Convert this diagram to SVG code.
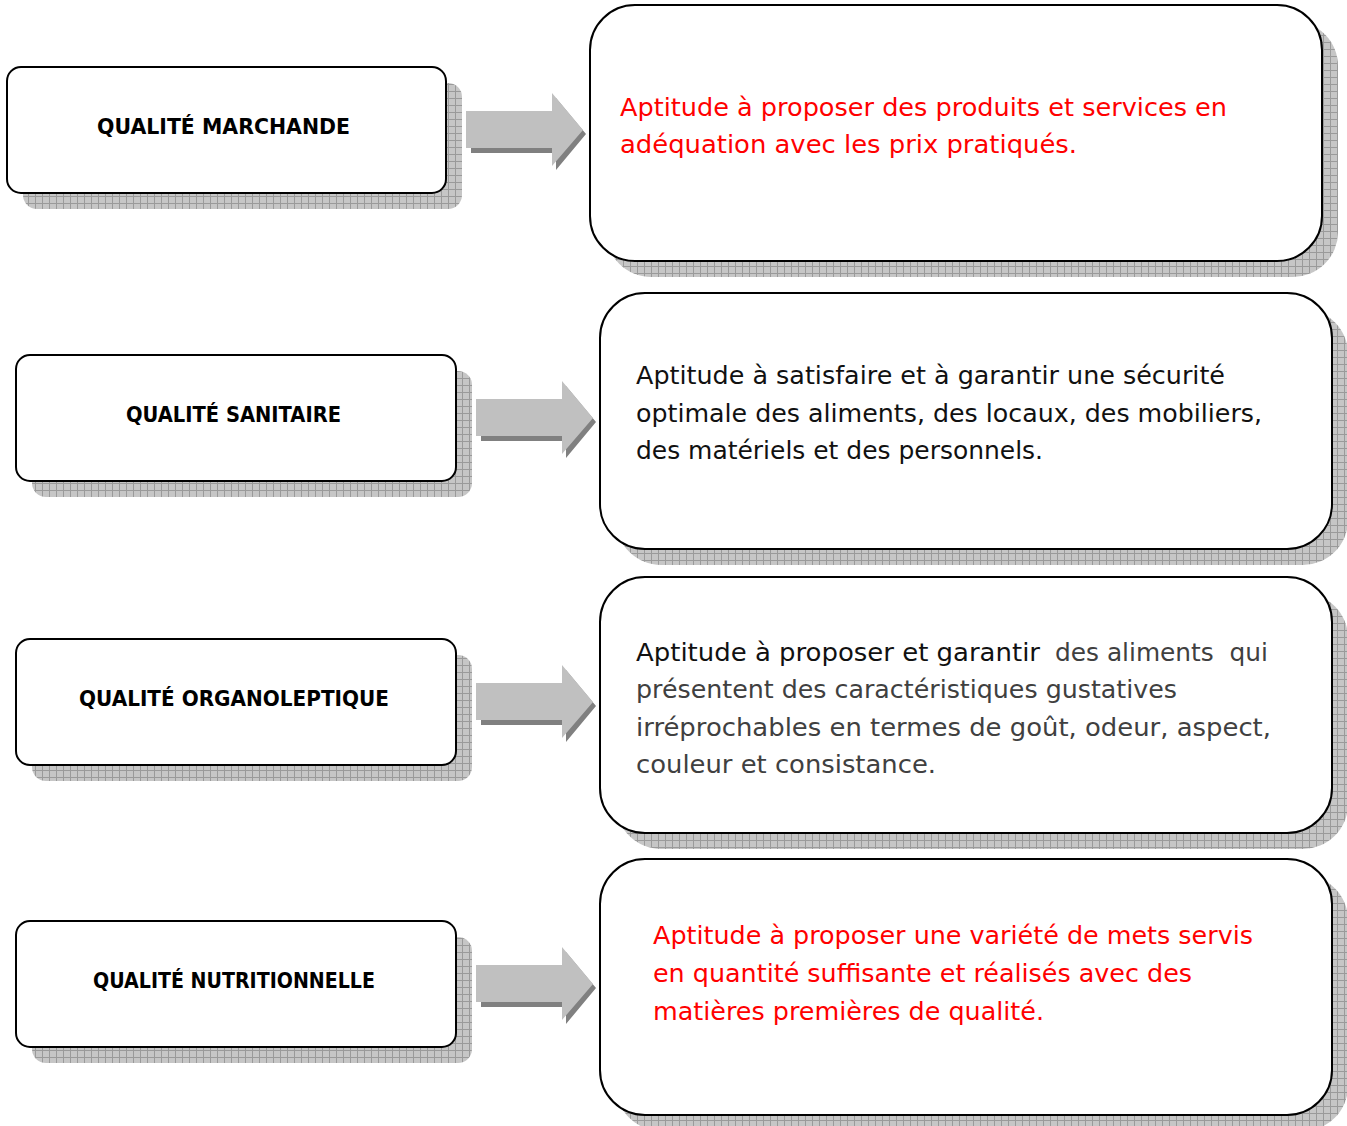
<svg xmlns="http://www.w3.org/2000/svg" width="1347" height="1126" viewBox="0 0 1347 1126">
<defs>
<pattern id="grid" width="7" height="7" patternUnits="userSpaceOnUse">
<rect width="7" height="7" fill="#c6c6c6"/>
<path d="M0 0.5H7M0.5 0V7" stroke="#9a9a9a" stroke-width="1"/>
</pattern>
<g id="arrow">
<path d="M5 5H90V-13L120 23L90 59V42H5Z" fill="#808080"/>
<path d="M0 0H86V-18L117 19L86 55V37H0Z" fill="#c0c0c0"/>
</g>
</defs>
<style>
.shadow{fill:url(#grid)}
.box{fill:#fff;stroke:#000;stroke-width:2}
.lbl{font-family:"DejaVu Sans","Liberation Sans",sans-serif;font-weight:bold;font-size:21px;fill:#000}
.txt{font-family:"DejaVu Sans","Liberation Sans",sans-serif;font-size:24px;white-space:pre}
.red{fill:#ff0000}
.blk{fill:#111}
.gry{fill:#404040}
</style>
<rect width="1347" height="1126" fill="#fff"/>

<g id="connectors">
<use href="#arrow" x="466" y="111"/>
<use href="#arrow" x="476" y="399"/>
<use href="#arrow" x="476" y="683"/>
<use href="#arrow" x="476" y="965"/>
</g>

<g id="node-marchande">
<rect class="shadow" x="23" y="83" width="439" height="126" rx="14"/>
<rect class="box" x="7" y="67" width="439" height="126" rx="14"/>
<text class="lbl" x="97" y="134" textLength="253" lengthAdjust="spacingAndGlyphs">QUALITÉ MARCHANDE</text>
</g>
<g id="node-sanitaire">
<rect class="shadow" x="32" y="371" width="440" height="126" rx="14"/>
<rect class="box" x="16" y="355" width="440" height="126" rx="14"/>
<text class="lbl" x="126" y="422" textLength="215" lengthAdjust="spacingAndGlyphs">QUALITÉ SANITAIRE</text>
</g>
<g id="node-organoleptique">
<rect class="shadow" x="32" y="655" width="440" height="126" rx="14"/>
<rect class="box" x="16" y="639" width="440" height="126" rx="14"/>
<text class="lbl" x="79" y="706" textLength="310" lengthAdjust="spacingAndGlyphs">QUALITÉ ORGANOLEPTIQUE</text>
</g>
<g id="node-nutritionnelle">
<rect class="shadow" x="32" y="937" width="440" height="126" rx="14"/>
<rect class="box" x="16" y="921" width="440" height="126" rx="14"/>
<text class="lbl" x="93" y="988" textLength="282" lengthAdjust="spacingAndGlyphs">QUALITÉ NUTRITIONNELLE</text>
</g>

<g id="desc-marchande">
<rect class="shadow" x="606" y="21" width="732" height="256" rx="45"/>
<rect class="box" x="590" y="5" width="732" height="256" rx="45"/>
<text class="txt red" x="620" y="116" textLength="607" lengthAdjust="spacingAndGlyphs">Aptitude à proposer des produits et services en</text>
<text class="txt red" x="620" y="153" textLength="457" lengthAdjust="spacingAndGlyphs">adéquation avec les prix pratiqués.</text>
</g>
<g id="desc-sanitaire">
<rect class="shadow" x="616" y="309" width="732" height="256" rx="45"/>
<rect class="box" x="600" y="293" width="732" height="256" rx="45"/>
<text class="txt blk" x="636" y="384" textLength="589" lengthAdjust="spacingAndGlyphs">Aptitude à satisfaire et à garantir une sécurité</text>
<text class="txt blk" x="636" y="422" textLength="626" lengthAdjust="spacingAndGlyphs">optimale des aliments, des locaux, des mobiliers,</text>
<text class="txt blk" x="636" y="459" textLength="407" lengthAdjust="spacingAndGlyphs">des matériels et des personnels.</text>
</g>
<g id="desc-organoleptique">
<rect class="shadow" x="616" y="593" width="732" height="256" rx="45"/>
<rect class="box" x="600" y="577" width="732" height="256" rx="45"/>
<text class="txt blk" x="636" y="661" textLength="404" lengthAdjust="spacingAndGlyphs">Aptitude à proposer et garantir</text>
<text class="txt gry" x="1055" y="661" textLength="213" lengthAdjust="spacingAndGlyphs">des aliments  qui</text>
<text class="txt gry" x="636" y="698" textLength="541" lengthAdjust="spacingAndGlyphs">présentent des caractéristiques gustatives</text>
<text class="txt gry" x="636" y="736" textLength="635" lengthAdjust="spacingAndGlyphs">irréprochables en termes de goût, odeur, aspect,</text>
<text class="txt gry" x="636" y="773" textLength="300" lengthAdjust="spacingAndGlyphs">couleur et consistance.</text>
</g>
<g id="desc-nutritionnelle">
<rect class="shadow" x="616" y="875" width="732" height="256" rx="45"/>
<rect class="box" x="600" y="859" width="732" height="256" rx="45"/>
<text class="txt red" x="653" y="944" textLength="600" lengthAdjust="spacingAndGlyphs">Aptitude à proposer une variété de mets servis</text>
<text class="txt red" x="653" y="982" textLength="539" lengthAdjust="spacingAndGlyphs">en quantité suffisante et réalisés avec des</text>
<text class="txt red" x="653" y="1020" textLength="391" lengthAdjust="spacingAndGlyphs">matières premières de qualité.</text>
</g>
</svg>
